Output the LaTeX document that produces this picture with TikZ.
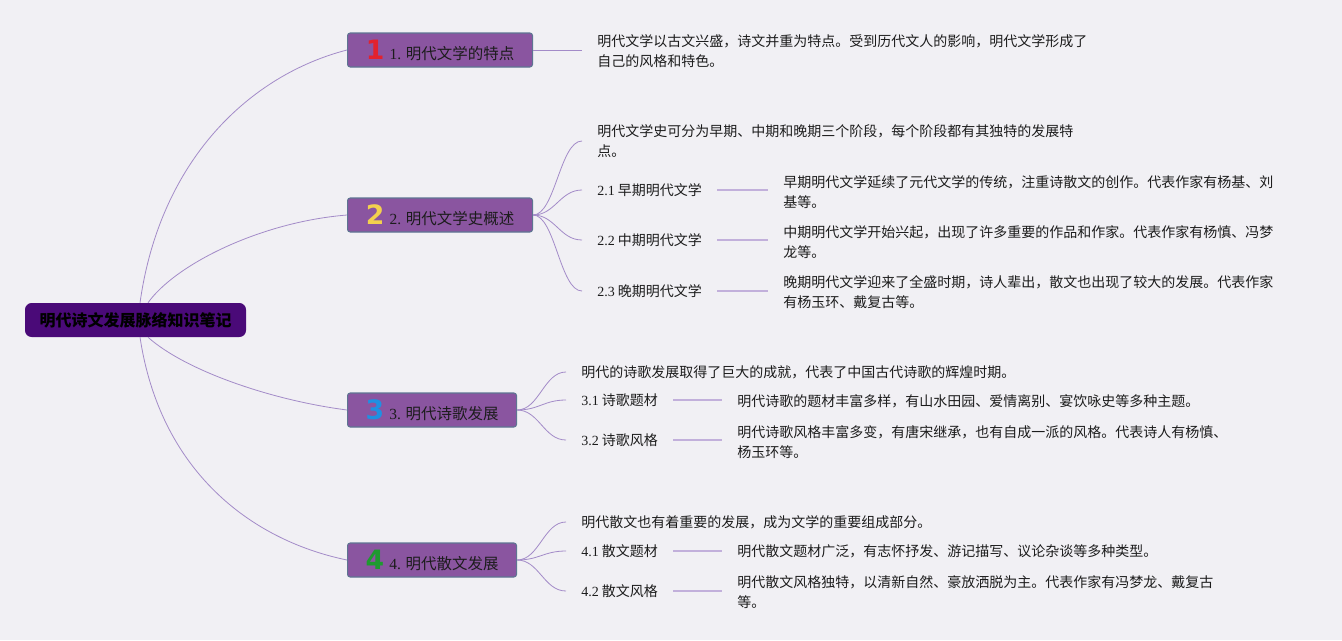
\documentclass[tikz,border=0pt]{standalone}
\usepackage{fontspec}
\setmainfont{Liberation Serif}
\newfontfamily\cjk{Noto Sans CJK SC}
\newfontfamily\iconfont{DejaVu Sans}
\usetikzlibrary{positioning}
\definecolor{mm-bg}{HTML}{F1F0F4}
\definecolor{mm-root}{HTML}{4A0A78}
\definecolor{mm-topic}{HTML}{8A55A0}
\definecolor{mm-edge}{HTML}{5E7592}
\definecolor{mm-curve}{HTML}{A38BC8}
\definecolor{mm-line}{HTML}{C2B0DB}
\definecolor{mm-text}{HTML}{1C1C1C}
\definecolor{mm-red}{HTML}{E2222E}
\definecolor{mm-yellow}{HTML}{F3D14E}
\definecolor{mm-blue}{HTML}{1F90E2}
\definecolor{mm-green}{HTML}{1E9A30}
\newcommand\xu[1]{{\rmfamily #1}}
\newcommand\ico[2]{{\iconfont\bfseries\fontsize{20pt}{20pt}\selectfont\color{#1}#2}\hspace{4pt}}
\tikzset{
  mm@root/.style={
    fill=mm-root, rounded corners=5pt,
    minimum width=165.75pt, minimum height=25.5pt, inner sep=0pt,
    font=\cjk\bfseries\fontsize{12pt}{14pt}\selectfont, text=black
  },
  mm@topic/.style={
    fill=mm-topic, draw=mm-edge, line width=0.8pt, rounded corners=2pt,
    minimum height=25.5pt, inner sep=0pt, anchor=west,
    font=\cjk\fontsize{11.6pt}{13pt}\selectfont, text=mm-text
  },
  mm@leaf/.style={
    anchor=west, align=left, inner xsep=11.25pt, inner ysep=0pt,
    font=\cjk\fontsize{10.5pt}{15pt}\selectfont, text=mm-text
  },
  mm@curve/.style={draw=mm-curve, line width=0.6pt},
  mm@line/.style={draw=mm-line, line width=0.9pt},
}
\begin{document}
\begin{tikzpicture}[x=0.75pt, y=-0.75pt]
  \fill[mm-bg] (0,0) rectangle (1342,640);

  \node[mm@root] (root) at (135.5,320) {明代诗文发展脉络知识笔记};

  \node[mm@topic, minimum width=138.75pt] (t1) at (347,50)  {\ico{mm-red}{1}\xu{1.} 明代文学的特点};
  \node[mm@topic, minimum width=138.75pt] (t2) at (347,215) {\ico{mm-yellow}{2}\xu{2.} 明代文学史概述};
  \node[mm@topic, minimum width=126.75pt] (t3) at (347,410) {\ico{mm-blue}{3}\xu{3.} 明代诗歌发展};
  \node[mm@topic, minimum width=126.75pt] (t4) at (347,560) {\ico{mm-green}{4}\xu{4.} 明代散文发展};

  \draw[mm@curve] ([xshift=3.4pt]root.north) .. controls +(20,-143) and +(-97,25) .. (t1.west);
  \draw[mm@curve] ([xshift=9.4pt]root.north) .. controls +(27,-38) and +(-87,7) .. (t2.west);
  \draw[mm@curve] ([xshift=9.4pt]root.south) .. controls +(37,33) and +(-77,-10) .. (t3.west);
  \draw[mm@curve] ([xshift=3.4pt]root.south) .. controls +(20,133) and +(-97,-20) .. (t4.west);

  % 1
  \node[mm@leaf] (d1) at (582,51) {明代文学以古文兴盛，诗文并重为特点。受到历代文人的影响，明代文学形成了\\自己的风格和特色。};
  \draw[mm@curve] (t1.east) -- (t1.east -| d1.west);

  % 2
  \node[mm@leaf] (d2)  at (582,141) {明代文学史可分为早期、中期和晚期三个阶段，每个阶段都有其独特的发展特\\点。};
  \node[mm@leaf] (s21) at (582,190) {\xu{2.1} 早期明代文学};
  \node[mm@leaf] (s22) at (582,240) {\xu{2.2} 中期明代文学};
  \node[mm@leaf] (s23) at (582,291) {\xu{2.3} 晚期明代文学};
  \node[mm@leaf] (d21) at (768,192) {早期明代文学延续了元代文学的传统，注重诗散文的创作。代表作家有杨基、刘\\基等。};
  \node[mm@leaf] (d22) at (768,242) {中期明代文学开始兴起，出现了许多重要的作品和作家。代表作家有杨慎、冯梦\\龙等。};
  \node[mm@leaf] (d23) at (768,292) {晚期明代文学迎来了全盛时期，诗人辈出，散文也出现了较大的发展。代表作家\\有杨玉环、戴复古等。};
  \foreach \n in {d2,s21,s22,s23}
    \draw[mm@curve] (t2.east) .. controls +(22,0) and +(-22,0) .. (\n.west);
  \foreach \s/\d in {s21/d21,s22/d22,s23/d23}
    \draw[mm@line] (\s.east) -- (\s.east -| \d.west);

  % 3
  \node[mm@leaf] (d3)  at (566,372) {明代的诗歌发展取得了巨大的成就，代表了中国古代诗歌的辉煌时期。};
  \node[mm@leaf] (s31) at (566,400) {\xu{3.1} 诗歌题材};
  \node[mm@leaf] (s32) at (566,440) {\xu{3.2} 诗歌风格};
  \node[mm@leaf] (d31) at (722,401) {明代诗歌的题材丰富多样，有山水田园、爱情离别、宴饮咏史等多种主题。};
  \node[mm@leaf] (d32) at (722,442) {明代诗歌风格丰富多变，有唐宋继承，也有自成一派的风格。代表诗人有杨慎、\\杨玉环等。};
  \foreach \n in {d3,s31,s32}
    \draw[mm@curve] (t3.east) .. controls +(22,0) and +(-22,0) .. (\n.west);
  \foreach \s/\d in {s31/d31,s32/d32}
    \draw[mm@line] (\s.east) -- (\s.east -| \d.west);

  % 4
  \node[mm@leaf] (d4)  at (566,522) {明代散文也有着重要的发展，成为文学的重要组成部分。};
  \node[mm@leaf] (s41) at (566,551) {\xu{4.1} 散文题材};
  \node[mm@leaf] (s42) at (566,591) {\xu{4.2} 散文风格};
  \node[mm@leaf] (d41) at (722,551) {明代散文题材广泛，有志怀抒发、游记描写、议论杂谈等多种类型。};
  \node[mm@leaf] (d42) at (722,592) {明代散文风格独特，以清新自然、豪放洒脱为主。代表作家有冯梦龙、戴复古\\等。};
  \foreach \n in {d4,s41,s42}
    \draw[mm@curve] (t4.east) .. controls +(22,0) and +(-22,0) .. (\n.west);
  \foreach \s/\d in {s41/d41,s42/d42}
    \draw[mm@line] (\s.east) -- (\s.east -| \d.west);
\end{tikzpicture}
\end{document}
